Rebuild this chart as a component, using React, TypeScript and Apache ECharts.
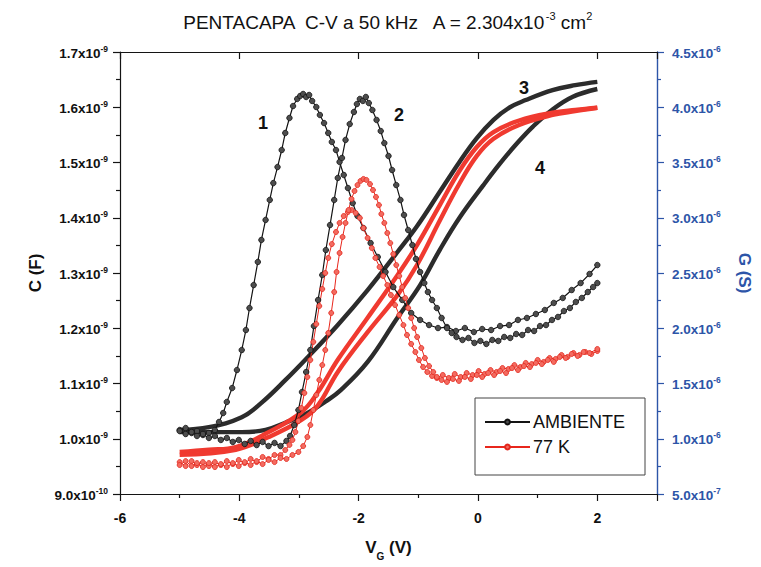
import React, { useEffect, useRef } from "react";
import * as echarts from "echarts";

const FONT = '"Liberation Sans", Arial, Helvetica, sans-serif';
const BLUE = "#2d55a8";
const BLACK = "#141414";
const RED = "#e8261c";

// Gate sweep range and tick positions (V)
const vgTicks = [-6, -4, -2, 0, 2];

// Conductance G (µS) vs V_G (V), room temperature, peak 1
const gAmbiente1: [number, number][] = [
  [-5.0, 1.079], [-4.9, 1.097], [-4.8, 1.052], [-4.71, 1.07], [-4.61, 1.034], [-4.51, 1.052],
  [-4.41, 1.079], [-4.34, 1.152], [-4.27, 1.233], [-4.21, 1.333], [-4.12, 1.459], [-4.04, 1.622],
  [-3.96, 1.803], [-3.89, 1.984], [-3.83, 2.183], [-3.76, 2.391], [-3.69, 2.6], [-3.63, 2.799],
  [-3.56, 2.98], [-3.49, 3.161], [-3.43, 3.314], [-3.36, 3.459], [-3.29, 3.613], [-3.23, 3.767],
  [-3.16, 3.903], [-3.1, 4.011], [-3.03, 4.075], [-2.98, 4.102], [-2.93, 4.12], [-2.88, 4.093],
  [-2.83, 4.111], [-2.78, 4.057], [-2.71, 4.002], [-2.65, 3.93], [-2.58, 3.857], [-2.51, 3.767],
  [-2.45, 3.686], [-2.38, 3.613], [-2.32, 3.505], [-2.25, 3.387], [-2.18, 3.269], [-2.1, 3.133],
  [-2.02, 3.016], [-1.92, 2.907], [-1.8, 2.771], [-1.68, 2.645], [-1.55, 2.509], [-1.42, 2.373],
  [-1.27, 2.256], [-1.12, 2.138], [-0.97, 2.075], [-0.82, 2.029], [-0.67, 2.002], [-0.52, 2.011],
  [-0.37, 1.975], [-0.22, 2.002], [-0.07, 1.966], [0.07, 1.993], [0.22, 1.984], [0.37, 2.02],
  [0.52, 2.029], [0.67, 2.075], [0.82, 2.093], [0.97, 2.129], [1.12, 2.165], [1.27, 2.229],
  [1.42, 2.274], [1.57, 2.346], [1.72, 2.409], [1.87, 2.491], [2.0, 2.572],
];

// Conductance G (µS) vs V_G (V), room temperature, peak 2
const gAmbiente2: [number, number][] = [
  [-5.0, 1.07], [-4.9, 1.043], [-4.8, 1.061], [-4.71, 1.025], [-4.61, 1.043], [-4.51, 1.007],
  [-4.41, 1.025], [-4.31, 0.989], [-4.21, 1.007], [-4.11, 0.971], [-4.01, 0.989], [-3.91, 0.953],
  [-3.81, 0.98], [-3.71, 0.943], [-3.61, 0.971], [-3.51, 0.934], [-3.41, 0.962], [-3.31, 0.934],
  [-3.21, 0.98], [-3.15, 1.025], [-3.08, 1.124], [-3.01, 1.26], [-2.95, 1.423], [-2.88, 1.604],
  [-2.81, 1.803], [-2.75, 2.02], [-2.68, 2.256], [-2.61, 2.482], [-2.55, 2.708], [-2.48, 2.934],
  [-2.41, 3.161], [-2.35, 3.36], [-2.28, 3.541], [-2.22, 3.704], [-2.15, 3.848], [-2.08, 3.957],
  [-2.03, 4.029], [-1.98, 4.075], [-1.93, 4.057], [-1.88, 4.093], [-1.83, 4.038], [-1.77, 3.975],
  [-1.7, 3.885], [-1.63, 3.785], [-1.57, 3.676], [-1.5, 3.559], [-1.44, 3.432], [-1.37, 3.296],
  [-1.3, 3.161], [-1.24, 3.025], [-1.17, 2.889], [-1.1, 2.753], [-1.04, 2.627], [-0.97, 2.509],
  [-0.9, 2.409], [-0.84, 2.328], [-0.77, 2.256], [-0.69, 2.183], [-0.61, 2.093], [-0.52, 2.002],
  [-0.44, 1.957], [-0.36, 1.921], [-0.26, 1.894], [-0.16, 1.912], [-0.06, 1.867], [0.04, 1.885],
  [0.14, 1.858], [0.24, 1.894], [0.34, 1.885], [0.44, 1.921], [0.54, 1.912], [0.64, 1.948],
  [0.74, 1.939], [0.84, 1.984], [0.94, 1.975], [1.04, 2.02], [1.14, 2.029], [1.24, 2.075],
  [1.34, 2.102], [1.44, 2.156], [1.54, 2.183], [1.64, 2.238], [1.74, 2.274], [1.84, 2.328],
  [1.93, 2.373], [2.0, 2.409],
];

// Capacitance C (nF) vs V_G (V), room temperature, curves 3 and 4
const cAmbiente3: [number, number][] = [
  [-5.0, 1.016], [-4.51, 1.021], [-3.96, 1.039], [-3.63, 1.065], [-3.23, 1.106], [-2.85, 1.148],
  [-2.35, 1.206], [-1.85, 1.269], [-1.35, 1.338], [-1.02, 1.385], [-0.64, 1.447], [-0.31, 1.501],
  [-0.02, 1.544], [0.26, 1.577], [0.52, 1.599], [0.8, 1.613], [1.25, 1.631], [1.63, 1.64], [2.0, 1.646],
];
const cAmbiente4: [number, number][] = [
  [-5.0, 1.012], [-3.96, 1.012], [-3.56, 1.016], [-3.23, 1.029], [-2.85, 1.047], [-2.56, 1.067],
  [-2.3, 1.088], [-1.85, 1.139], [-1.35, 1.219], [-0.97, 1.278], [-0.64, 1.342], [-0.31, 1.4],
  [0.09, 1.459], [0.36, 1.497], [0.64, 1.533], [0.92, 1.565], [1.25, 1.596], [1.59, 1.619], [2.0, 1.633],
];

// Conductance G (µS) vs V_G (V), 77 K
const g77a: [number, number][] = [
  [-5.0, 0.789], [-4.9, 0.753], [-4.8, 0.798], [-4.71, 0.762], [-4.61, 0.789], [-4.51, 0.753],
  [-4.41, 0.789], [-4.31, 0.762], [-4.21, 0.798], [-4.11, 0.771], [-4.01, 0.808], [-3.91, 0.78],
  [-3.81, 0.817], [-3.71, 0.789], [-3.61, 0.835], [-3.51, 0.817], [-3.41, 0.853], [-3.31, 0.853],
  [-3.23, 0.898], [-3.16, 0.944], [-3.11, 0.989], [-3.06, 1.061], [-3.01, 1.161], [-2.96, 1.278],
  [-2.91, 1.414], [-2.86, 1.559], [-2.81, 1.713], [-2.76, 1.876], [-2.71, 2.038], [-2.66, 2.201],
  [-2.61, 2.355], [-2.56, 2.5], [-2.51, 2.636], [-2.45, 2.762], [-2.38, 2.871], [-2.32, 2.953],
  [-2.25, 3.016], [-2.18, 3.052], [-2.12, 3.07], [-2.05, 3.043], [-1.98, 2.998], [-1.92, 2.907],
  [-1.85, 2.817], [-1.78, 2.726], [-1.72, 2.636], [-1.65, 2.554], [-1.59, 2.473], [-1.52, 2.391],
  [-1.46, 2.301], [-1.39, 2.21], [-1.32, 2.12], [-1.25, 2.029], [-1.19, 1.939], [-1.12, 1.858],
  [-1.05, 1.785], [-0.99, 1.713], [-0.92, 1.649], [-0.85, 1.604], [-0.77, 1.568], [-0.69, 1.55],
  [-0.59, 1.577], [-0.49, 1.55], [-0.39, 1.586], [-0.29, 1.559], [-0.19, 1.595], [-0.09, 1.577],
  [0.01, 1.613], [0.11, 1.586], [0.21, 1.622], [0.31, 1.604], [0.41, 1.64], [0.51, 1.631],
  [0.61, 1.667], [0.71, 1.649], [0.8, 1.686], [0.9, 1.676], [1.0, 1.713], [1.1, 1.695],
  [1.2, 1.731], [1.3, 1.722], [1.4, 1.758], [1.5, 1.74], [1.6, 1.776], [1.7, 1.758],
  [1.8, 1.785], [1.9, 1.767], [2.0, 1.794],
];
const g77b: [number, number][] = [
  [-5.0, 0.762], [-4.9, 0.798], [-4.8, 0.753], [-4.71, 0.78], [-4.61, 0.744], [-4.51, 0.78],
  [-4.41, 0.744], [-4.31, 0.771], [-4.21, 0.744], [-4.11, 0.78], [-4.01, 0.753], [-3.91, 0.789],
  [-3.81, 0.762], [-3.71, 0.798], [-3.61, 0.771], [-3.51, 0.808], [-3.41, 0.789], [-3.31, 0.826],
  [-3.21, 0.817], [-3.11, 0.853], [-3.01, 0.88], [-2.93, 0.934], [-2.86, 1.016], [-2.81, 1.124],
  [-2.76, 1.26], [-2.71, 1.396], [-2.66, 1.532], [-2.61, 1.667], [-2.56, 1.803], [-2.51, 1.957],
  [-2.46, 2.138], [-2.41, 2.328], [-2.37, 2.509], [-2.32, 2.681], [-2.27, 2.826], [-2.22, 2.953],
  [-2.17, 3.07], [-2.12, 3.17], [-2.07, 3.242], [-2.02, 3.296], [-1.97, 3.333], [-1.92, 3.351],
  [-1.87, 3.342], [-1.81, 3.305], [-1.76, 3.251], [-1.71, 3.188], [-1.66, 3.115], [-1.62, 3.034],
  [-1.57, 2.953], [-1.52, 2.862], [-1.47, 2.771], [-1.42, 2.672], [-1.37, 2.572], [-1.32, 2.473],
  [-1.27, 2.373], [-1.22, 2.274], [-1.17, 2.183], [-1.12, 2.093], [-1.07, 2.002], [-1.02, 1.921],
  [-0.95, 1.821], [-0.89, 1.731], [-0.82, 1.658], [-0.75, 1.604], [-0.69, 1.559], [-0.61, 1.532],
  [-0.52, 1.514], [-0.42, 1.541], [-0.32, 1.523], [-0.22, 1.559], [-0.12, 1.541], [-0.02, 1.577],
  [0.07, 1.559], [0.17, 1.595], [0.27, 1.577], [0.37, 1.613], [0.47, 1.595], [0.57, 1.64],
  [0.67, 1.622], [0.77, 1.658], [0.87, 1.649], [0.97, 1.686], [1.07, 1.676], [1.17, 1.713],
  [1.27, 1.695], [1.37, 1.74], [1.47, 1.731], [1.57, 1.767], [1.67, 1.749], [1.77, 1.785],
  [1.87, 1.776], [2.0, 1.812],
];

// Capacitance C (nF) vs V_G (V), 77 K
const c77a: [number, number][] = [
  [-5.0, 0.976], [-4.51, 0.98], [-4.06, 0.985], [-3.51, 1.012], [-2.96, 1.048], [-2.68, 1.085],
  [-2.35, 1.143], [-1.85, 1.219], [-1.35, 1.296], [-1.02, 1.351], [-0.64, 1.423], [-0.31, 1.485],
  [-0.02, 1.528], [0.26, 1.555], [0.69, 1.576], [1.25, 1.59], [1.63, 1.595], [2.0, 1.599],
];
const c77b: [number, number][] = [
  [-5.0, 0.971], [-4.06, 0.98], [-3.51, 1.003], [-2.96, 1.034], [-2.68, 1.061], [-2.35, 1.121],
  [-1.85, 1.193], [-1.35, 1.26], [-1.02, 1.315], [-0.64, 1.395], [-0.31, 1.462], [-0.02, 1.512],
  [0.26, 1.543], [0.69, 1.568], [1.25, 1.586], [1.63, 1.593], [2.0, 1.599],
];

// Curve numbers beside the traces
const curveTags = [
  { text: "1", x: 263, y: 123 },
  { text: "2", x: 399, y: 115 },
  { text: "3", x: 524, y: 88 },
  { text: "4", x: 540, y: 168 },
];

const sci = (mant: string, exp: number) => `{b|${mant}x10}{e|${exp}}`;

const tickRich = (color: string) => ({
  b: { fontFamily: FONT, fontWeight: "bold", fontSize: 13.5, color, lineHeight: 16, verticalAlign: "bottom" },
  e: { fontFamily: FONT, fontWeight: "bold", fontSize: 8.5, color, lineHeight: 16, verticalAlign: "top", padding: [0, 0, 5, 0] },
});

function gSeries(name: string, data: [number, number][], dark: boolean) {
  return {
    name,
    type: "line",
    yAxisIndex: 1,
    data,
    z: 3,
    symbol: "circle",
    symbolSize: dark ? 5.5 : 5,
    showSymbol: true,
    lineStyle: { color: dark ? BLACK : RED, width: dark ? 1.2 : 1 },
    itemStyle: dark
      ? { color: "#4d4d4d", borderColor: "#111", borderWidth: 0.8 }
      : { color: "#f36b60", borderColor: "#e2261c", borderWidth: 0.8 },
  };
}

function cSeries(name: string, data: [number, number][], dark: boolean) {
  return {
    name,
    type: "line",
    yAxisIndex: 0,
    data,
    z: 2,
    smooth: 0.4,
    symbol: "none",
    showSymbol: false,
    lineStyle: { color: dark ? "#2c2c2c" : "#f03a30", width: 4.4 },
  };
}

export default function App() {
  const ref = useRef<HTMLDivElement>(null);

  useEffect(() => {
    document.body.style.margin = "0";
    document.body.style.overflow = "hidden";
    document.documentElement.style.overflow = "hidden";
    const chart = echarts.init(ref.current!, null, { renderer: "svg", width: 761, height: 567 });

    const xBase = {
      type: "value",
      min: -6,
      max: 3,
      interval: 2,
      splitLine: { show: false },
    };

    chart.setOption({
      animation: false,
      backgroundColor: "#fff",
      title: {
        text: "{t|PENTACAPA  C-V a 50 kHz   A = 2.304x10}{s|-3}{t| cm}{s|2}",
        left: 382,
        textAlign: "center",
        top: 5,
        textStyle: {
          fontWeight: "normal",
          rich: {
            t: { fontFamily: FONT, fontWeight: "normal", fontSize: 19, color: "#111", lineHeight: 22, verticalAlign: "bottom" },
            s: { fontFamily: FONT, fontWeight: "normal", fontSize: 11, color: "#111", lineHeight: 22, verticalAlign: "top", padding: [0, 0, 9, 0] },
          },
        },
      },
      grid: { left: 120, top: 52, width: 549, height: 442, containLabel: false },
      legend: {
        data: ["AMBIENTE", "77 K"],
        orient: "vertical",
        left: 475,
        top: 398,
        padding: [15, 20, 19, 9],
        itemGap: 7,
        itemWidth: 45,
        itemHeight: 6,
        borderColor: "#444",
        borderWidth: 1,
        backgroundColor: "#fff",
        selectedMode: false,
        textStyle: { fontFamily: FONT, fontSize: 18, color: "#111", padding: [0, 0, 0, -2] },
      },
      xAxis: [
        {
          ...xBase,
          position: "bottom",
          name: "{b|V}{g|G}{b| (V)}",
          nameLocation: "middle",
          nameGap: 45,
          nameTextStyle: {
            rich: {
              b: { fontFamily: FONT, fontWeight: "bold", fontSize: 17, color: "#111", lineHeight: 22, verticalAlign: "top" },
              g: { fontFamily: FONT, fontWeight: "bold", fontSize: 10, color: "#111", lineHeight: 22, verticalAlign: "bottom", padding: [9, 0, 0, 0] },
            },
          },
          axisLine: { onZero: false, lineStyle: { color: BLACK, width: 1.2 } },
          axisTick: { inside: false, length: 7, lineStyle: { color: BLACK, width: 1.2 } },
          minorTick: { show: true, splitNumber: 2, length: 4, lineStyle: { color: BLACK, width: 1.2 } },
          axisLabel: {
            margin: 17,
            fontFamily: FONT,
            fontWeight: "bold",
            fontSize: 14,
            color: "#111",
            showMaxLabel: false,
          },
          data: vgTicks,
        },
        {
          ...xBase,
          position: "top",
          axisLine: { onZero: false, lineStyle: { color: BLACK, width: 1.2 } },
          axisTick: { inside: true, length: 7, lineStyle: { color: BLACK, width: 1.2 } },
          axisLabel: { show: false },
        },
      ],
      yAxis: [
        {
          type: "value",
          position: "left",
          min: 0.9,
          max: 1.7,
          interval: 0.1,
          splitLine: { show: false },
          name: "C (F)",
          nameLocation: "middle",
          nameRotate: 90,
          nameGap: 73,
          nameTextStyle: { fontFamily: FONT, fontWeight: "bold", fontSize: 17, color: "#111" },
          axisLine: { show: true, onZero: false, lineStyle: { color: BLACK, width: 1.2 } },
          axisTick: { inside: false, length: 7, lineStyle: { color: BLACK, width: 1.2 } },
          minorTick: { show: true, splitNumber: 2, length: 4, lineStyle: { color: BLACK, width: 1.2 } },
          axisLabel: {
            margin: 12,
            formatter: (v: number) => {
              const r = Math.round(v * 10) / 10;
              return r < 1 ? sci((r * 10).toFixed(1), -10) : sci(r.toFixed(1), -9);
            },
            rich: tickRich("#111"),
          },
        },
        {
          type: "value",
          position: "right",
          min: 0.5,
          max: 4.5,
          interval: 0.5,
          splitLine: { show: false },
          name: "G (S)",
          nameLocation: "middle",
          nameRotate: -90,
          nameGap: 79,
          nameTextStyle: { fontFamily: FONT, fontWeight: "bold", fontSize: 17, color: BLUE },
          axisLine: { show: true, onZero: false, lineStyle: { color: BLUE, width: 1.4 } },
          axisTick: { inside: false, length: 7, lineStyle: { color: BLUE, width: 1.2 } },
          minorTick: { show: true, splitNumber: 2, length: 4, lineStyle: { color: BLUE, width: 1.2 } },
          axisLabel: {
            margin: 15,
            formatter: (v: number) => {
              const r = Math.round(v * 10) / 10;
              return r < 1 ? sci((r * 10).toFixed(1), -7) : sci(r.toFixed(1), -6);
            },
            rich: tickRich(BLUE),
          },
        },
      ],
      graphic: curveTags.map((t) => ({
        type: "text",
        x: t.x,
        y: t.y,
        style: {
          text: t.text,
          fontFamily: FONT,
          fontWeight: "bold",
          fontSize: 18,
          fill: "#111",
          align: "center",
          verticalAlign: "middle",
        },
      })),
      series: [
        gSeries("AMBIENTE", gAmbiente1, true),
        gSeries("AMBIENTE", gAmbiente2, true),
        cSeries("AMBIENTE", cAmbiente3, true),
        cSeries("AMBIENTE", cAmbiente4, true),
        gSeries("77 K", g77a, false),
        gSeries("77 K", g77b, false),
        cSeries("77 K", c77a, false),
        cSeries("77 K", c77b, false),
      ],
    });

    return () => chart.dispose();
  }, []);

  return <div ref={ref} style={{ width: 761, height: 567 }} />;
}
